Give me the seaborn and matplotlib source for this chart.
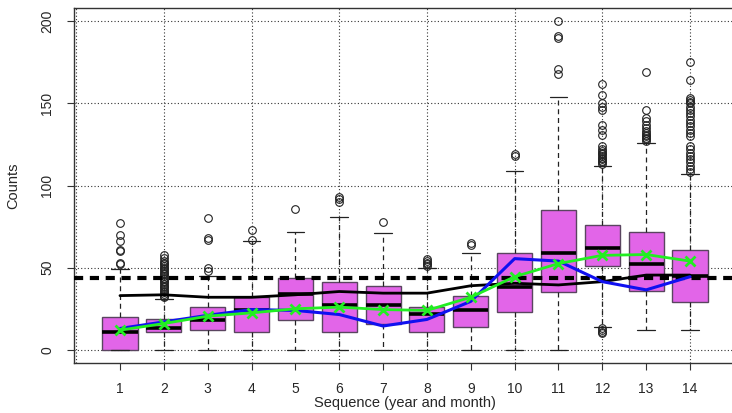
import numpy as np
import pandas as pd
import matplotlib
matplotlib.use("Agg")
import matplotlib.pyplot as plt
import seaborn as sns

# sequence (year and month)
seq = list(range(1, 15))

# box statistics
q1 = [0, 11, 12, 11, 18, 11, 16, 11, 14, 23, 35, 51, 36, 29]
med = [11, 13, 18, 24, 34, 27, 27, 22, 24, 38, 59, 62, 52, 45]
q3 = [20, 19, 26, 32, 44, 41, 39, 26, 33, 59, 85, 76, 72, 61]
whislo = [0, 0, 0, 0, 0, 0, 0, 0, 0, 0, 0, 14, 12, 12]
whishi = [49, 31, 45, 66, 72, 81, 71, 50, 59, 109, 154, 112, 126, 107]
fliers = [
    [52, 53, 60, 61, 66, 70, 77],
    [32, 33, 34, 35, 36, 37, 38, 39, 40, 41, 42, 43, 44, 45, 46, 47, 48, 49,
     50, 51, 52, 53, 54, 56, 58],
    [48, 50, 67, 68, 80],
    [67, 73],
    [86],
    [90, 92, 93],
    [78],
    [51, 52, 53, 54, 55],
    [64, 65],
    [118, 119],
    [168, 171, 190, 191, 200],
    [10, 11, 12, 13, 113, 114, 115, 116, 117, 118, 119, 120, 121, 122, 124,
     131, 134, 137, 146, 148, 150, 155, 162],
    [127, 128, 129, 130, 131, 132, 133, 135, 137, 139, 141, 146, 169],
    [108, 110, 112, 114, 116, 118, 120, 122, 124, 130, 132, 134, 136, 138,
     140, 142, 144, 146, 148, 150, 151, 152, 153, 164, 175],
]

# overlaid series
black_line = [33, 33.5, 32, 32, 33.5, 35.5, 34.5, 34.5, 39, 40.5, 39.5, 41.5, 45.5, 45.5]
green_line = [12, 16, 20.5, 22.5, 25, 26, 24.5, 24, 32, 44.5, 52.5, 57.5, 58, 54]
blue_line = [13, 17, 21, 24.5, 24, 21.5, 14.5, 18.5, 29.5, 55.5, 54, 41.5, 36.5, 44.5]
overall_mean = 44

sns.set_theme(style="white")
plt.rcParams['font.family'] = ['Liberation Sans', 'DejaVu Sans']

fig = plt.figure(figsize=(7.32, 4.13), dpi=100)
ax = fig.add_axes([73.5 / 732, 50 / 413, 663 / 732, 355 / 413])

stats = []
for i in range(len(seq)):
    stats.append(dict(q1=q1[i], med=med[i], q3=q3[i], whislo=whislo[i],
                      whishi=whishi[i], fliers=fliers[i]))

ax.bxp(stats, positions=seq, widths=0.8, capwidths=0.4, patch_artist=True,
       boxprops=dict(facecolor="#E265E8", edgecolor="#5a4560", linewidth=1),
       medianprops=dict(color="black", linewidth=2.6),
       whiskerprops=dict(color="#222222", linewidth=0.9, linestyle=(0, (4, 3))),
       capprops=dict(color="#222222", linewidth=0.9),
       flierprops=dict(marker="o", markerfacecolor="none", markeredgecolor="#222222",
                       markersize=5.5, markeredgewidth=0.8),
       zorder=2)

# grid
for gx in range(0, 16, 2):
    ax.axvline(gx, color="#333333", linestyle=(0, (1, 2)), linewidth=0.8, zorder=1)
for gy in range(0, 201, 50):
    ax.axhline(gy, color="#333333", linestyle=(0, (1, 2)), linewidth=0.8, zorder=1)

ax.axhline(overall_mean, color="black", linestyle=(0, (2.2, 1.6)), linewidth=3, zorder=3)

df = pd.DataFrame({"seq": seq, "black": black_line, "green": green_line, "blue": blue_line})
sns.lineplot(data=df, x="seq", y="black", color="black", linewidth=2, ax=ax, zorder=4)
sns.lineplot(data=df, x="seq", y="blue", color="#1010F0", linewidth=2.2, ax=ax, zorder=5)
sns.lineplot(data=df, x="seq", y="green", color="#22EE22", linewidth=2, marker="x",
             markersize=7, markeredgewidth=2, markeredgecolor="#22EE22", ax=ax, zorder=6)

ax.set_xlim(-0.06, 15.06)
ax.set_ylim(-8, 208)
ax.set_xticks(seq)
ax.set_xticklabels([str(s) for s in seq])
ax.set_yticks([0, 50, 100, 150, 200])
ax.set_yticklabels(["0", "50", "100", "150", "200"], rotation=90, va="center")
ax.tick_params(axis="both", direction="out", length=5, width=0.8, color="#333333",
               labelsize=10, pad=9, bottom=True, left=True)
for s in ax.spines.values():
    s.set_color("#333333")
    s.set_linewidth(1)

ax.set_xlabel("Sequence (year and month)", fontsize=10.5, labelpad=0)
ax.set_ylabel("Counts", fontsize=10.5, labelpad=14)

fig.savefig("out.png", dpi=100)
